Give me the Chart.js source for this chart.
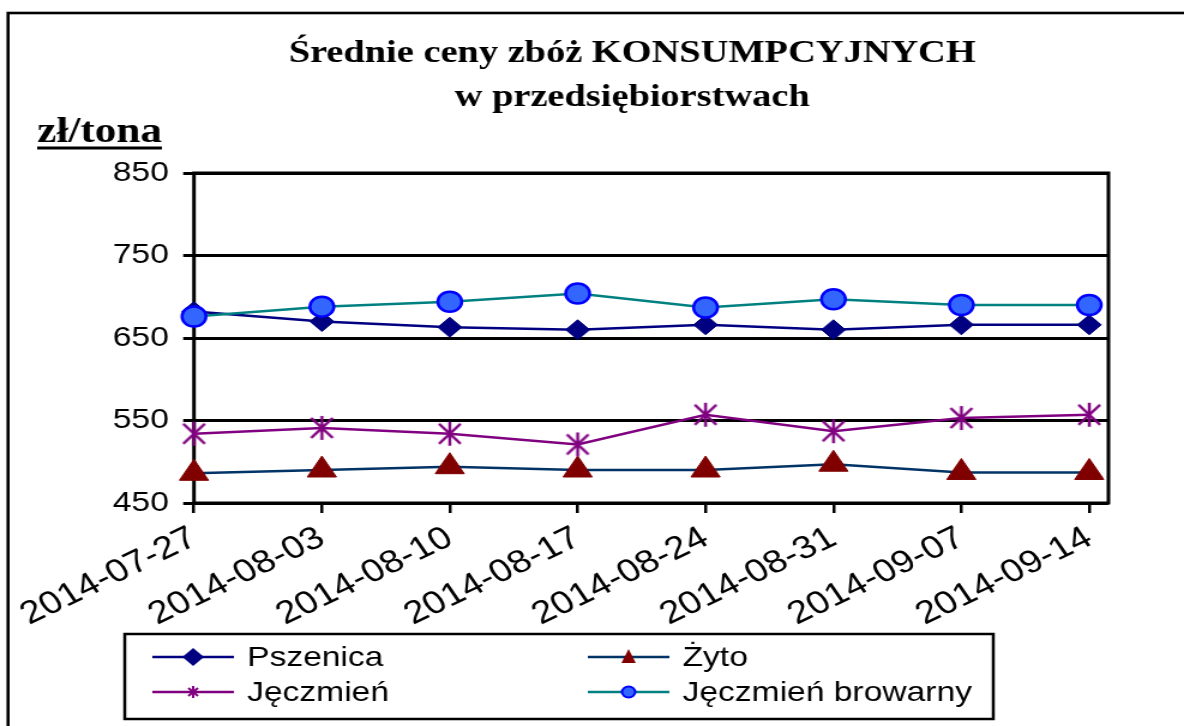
<!DOCTYPE html>
<html>
<head>
<meta charset="utf-8">
<script src="https://cdn.jsdelivr.net/npm/chart.js@4/dist/chart.umd.min.js"></script>
<style>
  body { margin: 0; background: #fff; overflow: hidden; }
  #wrap { width: 987px; height: 726px; transform: scaleX(1.1996); transform-origin: 0 0; }
</style>
</head>
<body>
<div id="wrap"><canvas id="ceny" width="987" height="726"></canvas></div>
<script>
const dates = ["2014-07-27", "2014-08-03", "2014-08-10", "2014-08-17", "2014-08-24", "2014-08-31", "2014-09-07", "2014-09-14"];
const pszenica = [682, 670, 663, 660, 666, 660, 666, 666];
const zyto = [486, 490, 494, 490, 490, 497, 487, 487];
const jeczmien = [534, 541, 534, 521, 557, 537, 553, 557];
const browarny = [676, 688, 694, 704, 687, 697, 690, 690];
const yTicks = [450, 550, 650, 750, 850];

const SANS = "'Liberation Sans', Arial, sans-serif";
const SERIF = "'Liberation Serif', 'Times New Roman', serif";

function toPoints(arr) {
    return arr.map((v, i) => ({ x: i, y: v }));
}

// gwiazdka jak w Excelu: pion + dwie przekatne
function starMark(w, h, color, lw) {
    const c = document.createElement("canvas");
    c.width = w;
    c.height = h;
    const g = c.getContext("2d");
    g.strokeStyle = color;
    g.lineWidth = lw;
    g.beginPath();
    g.moveTo(w / 2, 1); g.lineTo(w / 2, h - 1);
    g.moveTo(2, 3); g.lineTo(w - 2, h - 3);
    g.moveTo(w - 2, 3); g.lineTo(2, h - 3);
    g.stroke();
    return c;
}

const starBig = starMark(22, 26, "#800080", 2.5);
const starSmall = starMark(12, 14, "#800080", 2);

function drawMarker(ctx, kind, x, y) {
    ctx.save();
    ctx.beginPath();
    if (kind === "diamond") {
        ctx.fillStyle = "#000080";
        ctx.moveTo(x - 9, y); ctx.lineTo(x, y - 9); ctx.lineTo(x + 9, y); ctx.lineTo(x, y + 9);
        ctx.closePath(); ctx.fill();
    } else if (kind === "triangle") {
        ctx.fillStyle = "#800000";
        ctx.moveTo(x, y - 8); ctx.lineTo(x + 6, y + 6); ctx.lineTo(x - 6, y + 6);
        ctx.closePath(); ctx.fill();
    } else if (kind === "star") {
        ctx.drawImage(starSmall, x - 6, y - 7);
    } else {
        ctx.fillStyle = "#3366FF";
        ctx.strokeStyle = "#0000FF";
        ctx.lineWidth = 2;
        ctx.arc(x, y, 5.5, 0, Math.PI * 2);
        ctx.fill(); ctx.stroke();
    }
    ctx.restore();
}

const decor = {
    id: "decor",
    beforeDatasetsDraw(chart) {
        const { ctx, chartArea: a } = chart;
        ctx.save();
        ctx.strokeStyle = "#000";
        ctx.lineWidth = 3;
        ctx.strokeRect(a.left, a.top, a.right - a.left, a.bottom - a.top);
        ctx.restore();
    },
    afterDraw(chart) {
        const ctx = chart.ctx;
        ctx.save();
        // ramka
        ctx.strokeStyle = "#000";
        ctx.lineWidth = 2.6;
        ctx.strokeRect(6.7, 13, 1200, 900);

        // tytul
        ctx.fillStyle = "#000";
        ctx.textAlign = "center";
        ctx.textBaseline = "alphabetic";
        ctx.font = "bold 32px " + SERIF;
        ctx.fillText("Średnie ceny zbóż KONSUMPCYJNYCH", 527, 62);
        ctx.fillText("w przedsiębiorstwach", 527, 106);

        // jednostka
        ctx.textAlign = "left";
        ctx.font = "bold 36px " + SERIF;
        ctx.fillText("zł/tona", 31, 142);
        const uw = ctx.measureText("zł/tona").width;
        ctx.lineWidth = 3;
        ctx.beginPath();
        ctx.moveTo(31, 148); ctx.lineTo(31 + uw, 148);
        ctx.stroke();

        // legenda
        ctx.lineWidth = 2.5;
        ctx.strokeRect(104, 634, 724, 85);
        const items = [
            { label: "Pszenica", color: "#000080", kind: "diamond", x: 127, y: 657 },
            { label: "Żyto", color: "#003366", kind: "triangle", x: 490, y: 657 },
            { label: "Jęczmień", color: "#800080", kind: "star", x: 127, y: 692 },
            { label: "Jęczmień browarny", color: "#008080", kind: "circle", x: 490, y: 692 },
        ];
        ctx.font = "28px " + SANS;
        ctx.textBaseline = "middle";
        items.forEach((it) => {
            ctx.strokeStyle = it.color;
            ctx.lineWidth = 2.5;
            ctx.beginPath();
            ctx.moveTo(it.x, it.y); ctx.lineTo(it.x + 68, it.y);
            ctx.stroke();
            drawMarker(ctx, it.kind, it.x + 34, it.y);
            ctx.fillStyle = "#000";
            ctx.fillText(it.label, it.x + 79, it.y + 1);
        });
        ctx.restore();
    },
};

new Chart(document.getElementById("ceny"), {
    type: "line",
    data: {
        datasets: [
            {
                label: "Jęczmień browarny",
                data: toPoints(browarny),
                borderColor: "#008080",
                borderWidth: 2.5,
                pointStyle: "circle",
                pointRadius: 10,
                pointBackgroundColor: "#3366FF",
                pointBorderColor: "#0000FF",
                pointBorderWidth: 2.5,
                clip: false,
                order: 0,
            },
            {
                label: "Jęczmień",
                data: toPoints(jeczmien),
                borderColor: "#800080",
                borderWidth: 2.5,
                pointStyle: starBig,
                clip: false,
                order: 1,
            },
            {
                label: "Żyto",
                data: toPoints(zyto),
                borderColor: "#003366",
                borderWidth: 2.5,
                pointStyle: "triangle",
                pointRadius: 14,
                pointBackgroundColor: "#800000",
                pointBorderColor: "#800000",
                pointBorderWidth: 1,
                clip: false,
                order: 2,
            },
            {
                label: "Pszenica",
                data: toPoints(pszenica),
                borderColor: "#000080",
                borderWidth: 2.5,
                pointStyle: "rectRot",
                pointRadius: 10,
                pointBackgroundColor: "#000080",
                pointBorderColor: "#000080",
                pointBorderWidth: 1,
                clip: false,
                order: 3,
            },
        ],
    },
    options: {
        responsive: false,
        devicePixelRatio: 1,
        animation: false,
        layout: {
            padding: { top: 173, right: 63, bottom: 0, left: 0 },
        },
        plugins: {
            legend: { display: false },
            title: { display: false },
            tooltip: { enabled: false },
        },
        scales: {
            x: {
                type: "linear",
                min: 0,
                max: 7.15,
                afterBuildTicks: (scale) => {
                    scale.ticks = dates.map((d, i) => ({ value: i }));
                },
                afterFit: (scale) => {
                    scale.height = 223;
                },
                ticks: {
                    callback: (v) => dates[v],
                    autoSkip: false,
                    minRotation: 30,
                    maxRotation: 30,
                    color: "#000",
                    padding: 6,
                    font: { family: SANS, size: 32 },
                },
                grid: {
                    drawOnChartArea: false,
                    drawTicks: true,
                    tickLength: 10,
                    color: "#000",
                    lineWidth: 2.5,
                },
                border: { display: false },
            },
            y: {
                min: 450,
                max: 850,
                afterBuildTicks: (scale) => {
                    scale.ticks = yTicks.map((v) => ({ value: v }));
                },
                afterFit: (scale) => {
                    scale.width = 161.7;
                },
                ticks: {
                    color: "#000",
                    padding: 12,
                    font: { family: SANS, size: 28 },
                },
                grid: {
                    color: "#000",
                    lineWidth: 3,
                    tickLength: 9,
                },
                border: { display: false },
            },
        },
    },
    plugins: [decor],
});
</script>
</body>
</html>
